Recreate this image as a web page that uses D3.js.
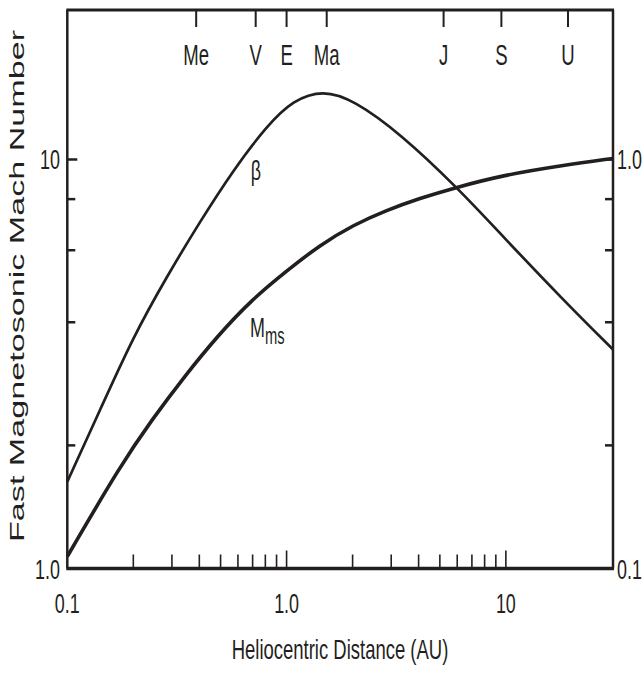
<!DOCTYPE html>
<html>
  <head>
    <meta charset="utf-8">
    <script src="https://d3js.org/d3.v7.min.js"></script>
    <style>
      body { margin: 0; background: #fff; }
      text { font-family: "Liberation Sans", Arial, sans-serif; fill: #231f20; }
    </style>
  </head>
  <body>
    <svg width="644" height="675"></svg>
    <script>
    // values (distance in AU)
    var betaDist = [0.1, 0.141, 0.2, 0.284, 0.403, 0.572, 0.812, 1.07, 1.47, 2.02, 3.29, 6.07, 9.73, 18.3, 30.8];
    var beta     = [0.163, 0.244, 0.369, 0.517, 0.705, 0.943, 1.208, 1.398, 1.479, 1.398, 1.159, 0.849, 0.647, 0.453, 0.343];
    var mmsDist  = [0.1, 0.174, 0.243, 0.344, 0.488, 0.693, 1.0, 1.42, 2.02, 2.86, 4.06, 5.76, 9.73, 18.3, 30.8];
    var mms      = [1.07, 1.78, 2.31, 2.96, 3.72, 4.54, 5.34, 6.18, 6.92, 7.52, 8.04, 8.51, 9.16, 9.68, 10.06];
    var planets = ["Me", "V", "E", "Ma", "J", "S", "U"];
    var planetDist = [0.387, 0.723, 1.0, 1.524, 5.2, 9.54, 19.2];
    var xMinor = [0.2, 0.3, 0.4, 0.5, 0.6, 0.7, 0.8, 0.9, 1, 2, 3, 4, 5, 6, 7, 8, 9, 10];
    var xLabels = [0.1, 1, 10];
    var xLabelText = ["0.1", "1.0", "10"];
    var yTicks = [2, 4, 6, 8, 10];
    var leftLabels = [1, 10];
    var leftLabelText = ["1.0", "10"];
    var rightLabels = [0.1, 1];
    var rightLabelText = ["0.1", "1.0"];

    var ink = "#231f20";
    var svg = d3.select("svg");
    var L = 67.3, R = 613, T = 10, B = 568.5;

    var x = d3.scaleLog().domain([0.1, 30.8]).range([L, R]);
    var y = d3.scaleLog().domain([1, 23.2]).range([B, T]);
    var yR = d3.scaleLog().domain([0.1, 2.32]).range([B, T]);

    function ctext(px, py, str, anchor, size, sx) {
      return svg.append("text")
        .attr("transform", "translate(" + px + "," + py + ") scale(" + (sx || 0.64) + ",1)")
        .attr("text-anchor", anchor)
        .attr("font-size", size)
        .text(str);
    }

    // bottom ticks
    svg.append("g").selectAll("line").data(xMinor).enter().append("line")
      .attr("x1", function(d) { return x(d); }).attr("x2", function(d) { return x(d); })
      .attr("y1", B).attr("y2", function(d) { return (d === 1 || d === 10) ? B - 18 : B - 14; })
      .attr("stroke", ink).attr("stroke-width", 1.6);

    // planet ticks on top
    svg.append("g").selectAll("line").data(planetDist).enter().append("line")
      .attr("x1", function(d) { return x(d); }).attr("x2", function(d) { return x(d); })
      .attr("y1", T).attr("y2", T + 17)
      .attr("stroke", ink).attr("stroke-width", 2);
    planets.forEach(function(p, i) { ctext(x(planetDist[i]), 65, p, "middle", 29); });

    // left / right ticks
    svg.append("g").selectAll("line").data(yTicks).enter().append("line")
      .attr("x1", L).attr("x2", function(d) { return d === 10 ? L + 10 : L + 8; })
      .attr("y1", function(d) { return y(d); }).attr("y2", function(d) { return y(d); })
      .attr("stroke", ink).attr("stroke-width", 2.5);
    svg.append("g").selectAll("line").data(yTicks).enter().append("line")
      .attr("x1", R).attr("x2", function(d) { return d === 10 ? R - 10 : R - 8; })
      .attr("y1", function(d) { return yR(d / 10); }).attr("y2", function(d) { return yR(d / 10); })
      .attr("stroke", ink).attr("stroke-width", 2.5);

    // frame
    svg.append("line").attr("x1", L - 1).attr("x2", R + 1).attr("y1", T).attr("y2", T).attr("stroke", ink).attr("stroke-width", 3);
    svg.append("line").attr("x1", L - 1).attr("x2", R + 1).attr("y1", B).attr("y2", B).attr("stroke", ink).attr("stroke-width", 3.5);
    svg.append("line").attr("x1", L).attr("x2", L).attr("y1", T).attr("y2", B).attr("stroke", ink).attr("stroke-width", 2.5);
    svg.append("line").attr("x1", R).attr("x2", R).attr("y1", T).attr("y2", B).attr("stroke", ink).attr("stroke-width", 2.5);

    // tick labels
    xLabels.forEach(function(v, i) { ctext(x(v), 613, xLabelText[i], "middle", 28); });
    leftLabels.forEach(function(v, i) { ctext(60, y(v) + 10, leftLabelText[i], "end", 28); });
    rightLabels.forEach(function(v, i) { ctext(617, yR(v) + 10, rightLabelText[i], "start", 28); });

    // curves
    var lineB = d3.line().curve(d3.curveBasis)
      .x(function(d, i) { return x(betaDist[i]); })
      .y(function(d) { return yR(d); });
    var lineM = d3.line().curve(d3.curveBasis)
      .x(function(d, i) { return x(mmsDist[i]); })
      .y(function(d) { return y(d); });
    svg.append("path").datum(beta).attr("d", lineB)
      .attr("fill", "none").attr("stroke", ink).attr("stroke-width", 2.7);
    svg.append("path").datum(mms).attr("d", lineM)
      .attr("fill", "none").attr("stroke", ink).attr("stroke-width", 3.6);

    // curve labels
    ctext(256, 180, "β", "middle", 28);
    var mLab = ctext(250, 337, "M", "start", 28);
    mLab.append("tspan").attr("font-size", 23).attr("dy", 7).text("ms");

    // axis titles
    ctext(340, 659, "Heliocentric Distance (AU)", "middle", 28, 0.66);
    svg.append("text")
      .attr("transform", "translate(24,286) rotate(-90)")
      .attr("text-anchor", "middle")
      .attr("font-size", 19.5)
      .attr("textLength", 512)
      .attr("lengthAdjust", "spacingAndGlyphs")
      .text("Fast Magnetosonic Mach Number");
    </script>
  </body>
</html>
